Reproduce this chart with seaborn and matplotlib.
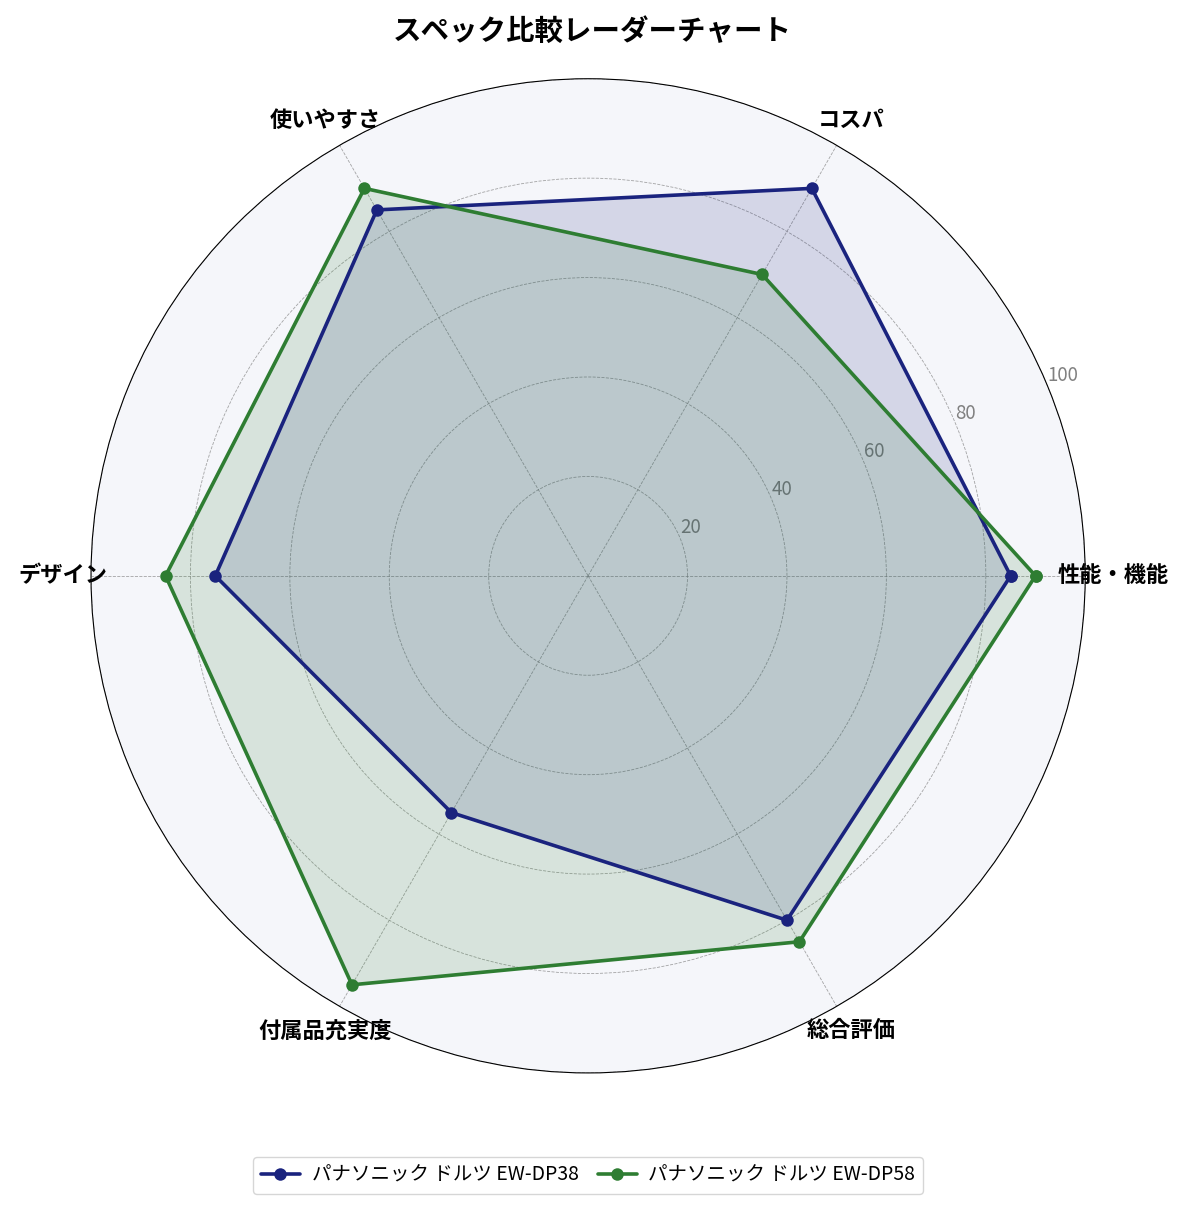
import numpy as np
import pandas as pd
import matplotlib
matplotlib.use("Agg")
import matplotlib.pyplot as plt
import seaborn as sns

# données
categories = ["性能・機能", "コスパ", "使いやすさ", "デザイン", "付属品充実度", "総合評価"]
dp38 = [85, 90, 85, 75, 55, 80]
dp58 = [90, 70, 90, 85, 95, 85]
noms = ["パナソニック ドルツ EW-DP38", "パナソニック ドルツ EW-DP58"]
couleurs = ["#1a237e", "#2e7d32"]
rticks = [20, 40, 60, 80, 100]

sns.set_style("white")
plt.rcParams["font.family"] = ["Noto Sans CJK JP", "DejaVu Sans"]
plt.rcParams["text.color"] = "black"

angles = np.linspace(0, 2 * np.pi, len(categories), endpoint=False)
# on ferme le polygone en répétant le premier point
rows = []
for nom, vals in zip(noms, [dp38, dp58]):
    for i, v in enumerate(list(vals) + [vals[0]]):
        a = angles[i] if i < len(angles) else 2 * np.pi
        rows.append({"angle": a, "score": v, "modele": nom})
df = pd.DataFrame(rows)

fig = plt.figure(figsize=(11.85, 12.11), dpi=100)
ax = fig.add_axes([0.0768, 0.114, 0.839, 0.821], projection="polar")
ax.set_facecolor("#f5f6fa")

sns.lineplot(data=df, x="angle", y="score", hue="modele", palette=couleurs,
             sort=False, marker="o", markersize=9, markeredgewidth=0,
             linewidth=2.6, ax=ax)
for nom, c in zip(noms, couleurs):
    d = df[df["modele"] == nom]
    ax.fill(d["angle"], d["score"], color=c, alpha=0.15)

ax.set_ylim(0, 100)
ax.set_yticks(rticks)
ax.set_yticklabels([str(t) for t in rticks], color="gray", fontsize=13.5)
ax.set_rlabel_position(22.5)
ax.set_xticks(angles)
ax.set_xticklabels(categories, fontsize=16, fontweight="bold", color="black")
ax.tick_params(axis="x", pad=10)
ax.grid(True, color="gray", linestyle="--", linewidth=0.6, alpha=0.7)
ax.spines["polar"].set_color("black")
ax.set_xlabel("")
ax.set_ylabel("")

fig.suptitle("スペック比較レーダーチャート", fontsize=20.5, fontweight="bold", y=0.985)
ax.legend(loc="upper center", bbox_to_anchor=(0.5, -0.075), ncol=2, fontsize=14,
          frameon=True, edgecolor="#cccccc", columnspacing=1.0, handletextpad=0.6)

fig.savefig("out.png", dpi=100)
